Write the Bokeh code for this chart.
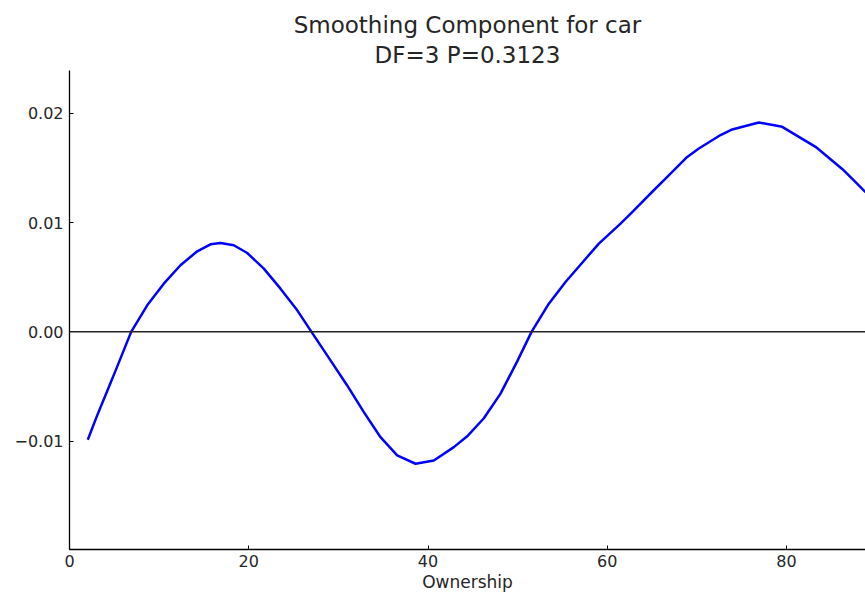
from bokeh.plotting import figure
from bokeh.models import Span, Title, FixedTicker, Range1d
from bokeh.embed import file_html
from bokeh.resources import INLINE

# Data
ownership = [2.04, 3.09, 4.21, 5.32, 6.88, 8.67, 10.52, 12.38, 14.25, 15.73,
             16.85, 18.33, 19.83, 21.68, 23.54, 25.41, 27.00, 29.12, 30.98, 32.84,
             34.70, 36.56, 38.61, 40.65, 42.88, 44.37, 46.23, 48.09, 49.95,
             51.55, 53.48, 55.34, 57.76, 59.06, 61.48, 62.78, 65.19, 66.50, 68.92,
             70.22, 72.64, 73.94, 76.91, 79.52, 83.24, 86.21, 87.51, 88.81]
component = [-0.00987, -0.00764, -0.00540, -0.00318, 0.0, 0.00243, 0.00441, 0.00609, 0.00737, 0.00801,
             0.00813, 0.00792, 0.00721, 0.00578, 0.00395, 0.00197, 0.0, -0.00261, -0.00490, -0.00734,
             -0.00963, -0.01130, -0.01206, -0.01176, -0.01054, -0.00955, -0.00790, -0.00565, -0.00270,
             0.0, 0.00258, 0.00456, 0.00685, 0.00807, 0.00990, 0.01095, 0.01295, 0.01402, 0.01600,
             0.01677, 0.01800, 0.01851, 0.01915, 0.01875, 0.01692, 0.01490, 0.01385, 0.01277]
x_ticks = [0, 20, 40, 60, 80]
y_ticks = [-0.01, 0.0, 0.01, 0.02]
y_tick_labels = {-0.01: "\u22120.01", 0.0: "0.00", 0.01: "0.01", 0.02: "0.02"}
title_line1 = "Smoothing Component for car"
title_line2 = "DF=3 P=0.3123"
x_label = "Ownership"

FONT = "DejaVu Sans"
TXT = "#262626"

p = figure(width=865, height=594, output_backend="svg", toolbar_location=None,
           x_range=Range1d(0, 88.81), y_range=Range1d(-0.0199, 0.0239),
           min_border_left=69, min_border_right=0, min_border_top=70, min_border_bottom=45)

p.title.text = title_line1
p.title.align = "center"
p.title.text_font = FONT
p.title.text_font_size = "23px"
p.title.text_font_style = "normal"
p.title.text_color = TXT
p.title.standoff = -2
t2 = Title(text=title_line2, align="center", text_font=FONT, text_font_size="23px",
           text_font_style="normal", text_color=TXT, standoff=6)
p.add_layout(t2, "above")

p.outline_line_color = None
p.xgrid.visible = False
p.ygrid.visible = False
p.background_fill_color = "white"
p.border_fill_color = "white"

for ax in (p.xaxis[0], p.yaxis[0]):
    ax.axis_line_color = "black"
    ax.axis_line_width = 1.3
    ax.major_tick_in = 4
    ax.major_tick_out = 0
    ax.major_tick_line_color = "black"
    ax.minor_tick_line_color = None
    ax.major_label_text_font = FONT
    ax.major_label_text_font_size = "16px"
    ax.major_label_text_color = TXT
    ax.major_label_standoff = 6

p.xaxis.major_label_standoff = 5
p.xaxis.ticker = FixedTicker(ticks=x_ticks)
p.yaxis.ticker = FixedTicker(ticks=y_ticks)
p.yaxis.major_label_overrides = y_tick_labels
p.xaxis.axis_label = x_label
p.xaxis.axis_label_text_font = FONT
p.xaxis.axis_label_text_font_size = "17px"
p.xaxis.axis_label_text_font_style = "normal"
p.xaxis.axis_label_text_color = TXT
p.xaxis.axis_label_standoff = 2

p.add_layout(Span(location=0, dimension="width", line_color="#222222", line_width=1.5))
p.line(ownership, component, line_color="#0000ff", line_width=2.5, line_join="round")

open("out.html", "w").write(file_html(p, INLINE))
